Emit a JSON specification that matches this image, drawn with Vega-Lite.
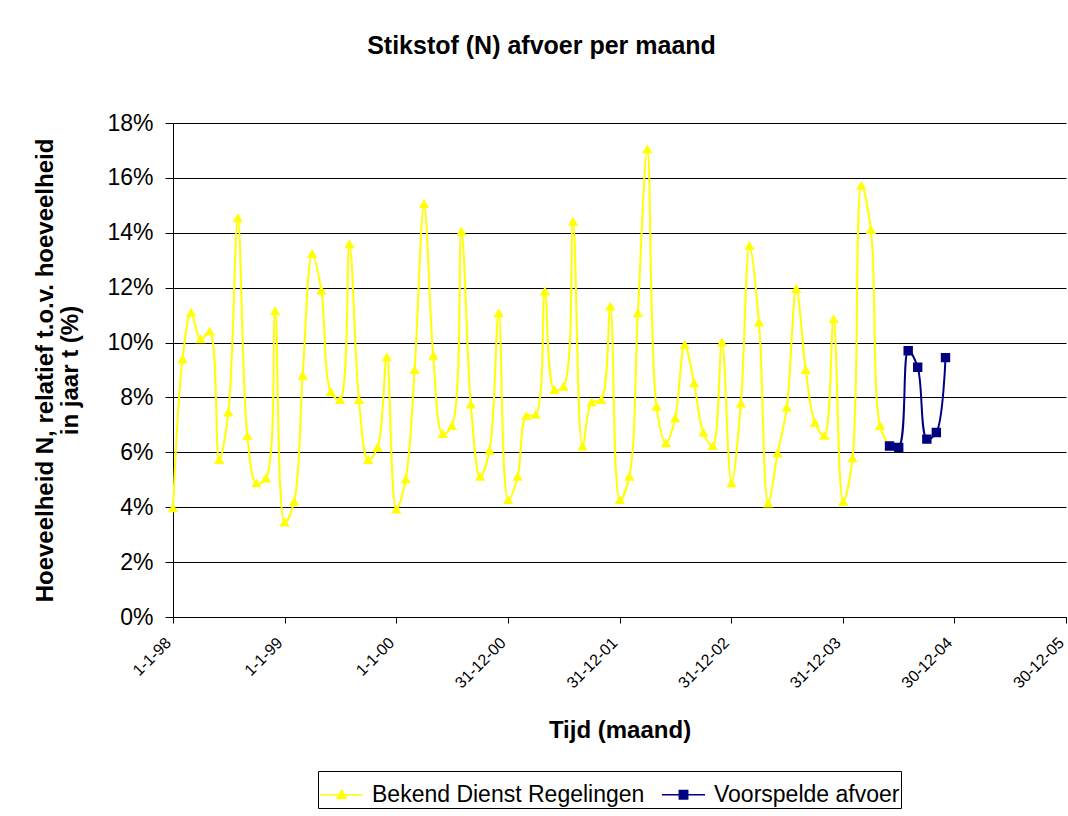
{
  "$schema": "https://vega.github.io/schema/vega-lite/v6.json",
  "width": 893,
  "height": 494,
  "autosize": {"type": "none"},
  "padding": {"left": 173, "top": 123, "right": 2, "bottom": 199},
  "background": "white",
  "config": {
    "font": "Liberation Sans",
    "view": {"stroke": null},
    "axis": {"domainColor": "#000", "tickColor": "#000", "labelColor": "#000", "titleColor": "#000", "labelFont": "Liberation Sans", "titleFont": "Liberation Sans"},
    "legend": {
      "orient": "none",
      "legendX": 145,
      "legendY": 648,
      "direction": "horizontal",
      "strokeColor": "#000",
      "fillColor": "#fff",
      "padding": 1,
      "labelFontSize": 23,
      "labelFont": "Liberation Sans",
      "labelColor": "#000",
      "labelOffset": 8,
      "labelLimit": 0,
      "columnPadding": 14,
      "symbolSize": 1849,
      "symbolStrokeWidth": 1.3
    }
  },
  "title": {
    "text": "Stikstof (N) afvoer per maand",
    "fontSize": 25,
    "fontWeight": "bold",
    "font": "Liberation Sans",
    "color": "#000",
    "anchor": "middle",
    "dx": -78,
    "baseline": "alphabetic",
    "offset": 33
  },
  "data": {
    "values": [
      {"date": "1998-01-01", "value": 0.0396, "series": "Bekend Dienst Regelingen"},
      {"date": "1998-02-01", "value": 0.0939, "series": "Bekend Dienst Regelingen"},
      {"date": "1998-03-01", "value": 0.1109, "series": "Bekend Dienst Regelingen"},
      {"date": "1998-04-01", "value": 0.1012, "series": "Bekend Dienst Regelingen"},
      {"date": "1998-05-01", "value": 0.1040, "series": "Bekend Dienst Regelingen"},
      {"date": "1998-06-01", "value": 0.0572, "series": "Bekend Dienst Regelingen"},
      {"date": "1998-07-01", "value": 0.0745, "series": "Bekend Dienst Regelingen"},
      {"date": "1998-08-01", "value": 0.1453, "series": "Bekend Dienst Regelingen"},
      {"date": "1998-09-01", "value": 0.0660, "series": "Bekend Dienst Regelingen"},
      {"date": "1998-10-01", "value": 0.0487, "series": "Bekend Dienst Regelingen"},
      {"date": "1998-11-01", "value": 0.0505, "series": "Bekend Dienst Regelingen"},
      {"date": "1998-12-01", "value": 0.1115, "series": "Bekend Dienst Regelingen"},
      {"date": "1999-01-01", "value": 0.0344, "series": "Bekend Dienst Regelingen"},
      {"date": "1999-02-01", "value": 0.0420, "series": "Bekend Dienst Regelingen"},
      {"date": "1999-03-01", "value": 0.0879, "series": "Bekend Dienst Regelingen"},
      {"date": "1999-04-01", "value": 0.1323, "series": "Bekend Dienst Regelingen"},
      {"date": "1999-05-01", "value": 0.1190, "series": "Bekend Dienst Regelingen"},
      {"date": "1999-06-01", "value": 0.0820, "series": "Bekend Dienst Regelingen"},
      {"date": "1999-07-01", "value": 0.0791, "series": "Bekend Dienst Regelingen"},
      {"date": "1999-08-01", "value": 0.1358, "series": "Bekend Dienst Regelingen"},
      {"date": "1999-09-01", "value": 0.0791, "series": "Bekend Dienst Regelingen"},
      {"date": "1999-10-01", "value": 0.0572, "series": "Bekend Dienst Regelingen"},
      {"date": "1999-11-01", "value": 0.0617, "series": "Bekend Dienst Regelingen"},
      {"date": "1999-12-01", "value": 0.0946, "series": "Bekend Dienst Regelingen"},
      {"date": "2000-01-01", "value": 0.0392, "series": "Bekend Dienst Regelingen"},
      {"date": "2000-02-01", "value": 0.0502, "series": "Bekend Dienst Regelingen"},
      {"date": "2000-03-01", "value": 0.0900, "series": "Bekend Dienst Regelingen"},
      {"date": "2000-04-01", "value": 0.1504, "series": "Bekend Dienst Regelingen"},
      {"date": "2000-05-01", "value": 0.0952, "series": "Bekend Dienst Regelingen"},
      {"date": "2000-06-01", "value": 0.0667, "series": "Bekend Dienst Regelingen"},
      {"date": "2000-07-01", "value": 0.0696, "series": "Bekend Dienst Regelingen"},
      {"date": "2000-08-01", "value": 0.1405, "series": "Bekend Dienst Regelingen"},
      {"date": "2000-09-01", "value": 0.0774, "series": "Bekend Dienst Regelingen"},
      {"date": "2000-10-01", "value": 0.0511, "series": "Bekend Dienst Regelingen"},
      {"date": "2000-11-01", "value": 0.0606, "series": "Bekend Dienst Regelingen"},
      {"date": "2000-12-01", "value": 0.1107, "series": "Bekend Dienst Regelingen"},
      {"date": "2001-01-01", "value": 0.0426, "series": "Bekend Dienst Regelingen"},
      {"date": "2001-02-01", "value": 0.0511, "series": "Bekend Dienst Regelingen"},
      {"date": "2001-03-01", "value": 0.0732, "series": "Bekend Dienst Regelingen"},
      {"date": "2001-04-01", "value": 0.0737, "series": "Bekend Dienst Regelingen"},
      {"date": "2001-05-01", "value": 0.1186, "series": "Bekend Dienst Regelingen"},
      {"date": "2001-06-01", "value": 0.0827, "series": "Bekend Dienst Regelingen"},
      {"date": "2001-07-01", "value": 0.0839, "series": "Bekend Dienst Regelingen"},
      {"date": "2001-08-01", "value": 0.1440, "series": "Bekend Dienst Regelingen"},
      {"date": "2001-09-01", "value": 0.0621, "series": "Bekend Dienst Regelingen"},
      {"date": "2001-10-01", "value": 0.0782, "series": "Bekend Dienst Regelingen"},
      {"date": "2001-11-01", "value": 0.0791, "series": "Bekend Dienst Regelingen"},
      {"date": "2001-12-01", "value": 0.1131, "series": "Bekend Dienst Regelingen"},
      {"date": "2002-01-01", "value": 0.0426, "series": "Bekend Dienst Regelingen"},
      {"date": "2002-02-01", "value": 0.0511, "series": "Bekend Dienst Regelingen"},
      {"date": "2002-03-01", "value": 0.1107, "series": "Bekend Dienst Regelingen"},
      {"date": "2002-04-01", "value": 0.1704, "series": "Bekend Dienst Regelingen"},
      {"date": "2002-05-01", "value": 0.0766, "series": "Bekend Dienst Regelingen"},
      {"date": "2002-06-01", "value": 0.0633, "series": "Bekend Dienst Regelingen"},
      {"date": "2002-07-01", "value": 0.0724, "series": "Bekend Dienst Regelingen"},
      {"date": "2002-08-01", "value": 0.0991, "series": "Bekend Dienst Regelingen"},
      {"date": "2002-09-01", "value": 0.0852, "series": "Bekend Dienst Regelingen"},
      {"date": "2002-10-01", "value": 0.0672, "series": "Bekend Dienst Regelingen"},
      {"date": "2002-11-01", "value": 0.0623, "series": "Bekend Dienst Regelingen"},
      {"date": "2002-12-01", "value": 0.1000, "series": "Bekend Dienst Regelingen"},
      {"date": "2003-01-01", "value": 0.0487, "series": "Bekend Dienst Regelingen"},
      {"date": "2003-02-01", "value": 0.0778, "series": "Bekend Dienst Regelingen"},
      {"date": "2003-03-01", "value": 0.1352, "series": "Bekend Dienst Regelingen"},
      {"date": "2003-04-01", "value": 0.1073, "series": "Bekend Dienst Regelingen"},
      {"date": "2003-05-01", "value": 0.0414, "series": "Bekend Dienst Regelingen"},
      {"date": "2003-06-01", "value": 0.0597, "series": "Bekend Dienst Regelingen"},
      {"date": "2003-07-01", "value": 0.0763, "series": "Bekend Dienst Regelingen"},
      {"date": "2003-08-01", "value": 0.1195, "series": "Bekend Dienst Regelingen"},
      {"date": "2003-09-01", "value": 0.0900, "series": "Bekend Dienst Regelingen"},
      {"date": "2003-10-01", "value": 0.0708, "series": "Bekend Dienst Regelingen"},
      {"date": "2003-11-01", "value": 0.0660, "series": "Bekend Dienst Regelingen"},
      {"date": "2003-12-01", "value": 0.1085, "series": "Bekend Dienst Regelingen"},
      {"date": "2004-01-01", "value": 0.0420, "series": "Bekend Dienst Regelingen"},
      {"date": "2004-02-01", "value": 0.0578, "series": "Bekend Dienst Regelingen"},
      {"date": "2004-03-01", "value": 0.1571, "series": "Bekend Dienst Regelingen"},
      {"date": "2004-04-01", "value": 0.1410, "series": "Bekend Dienst Regelingen"},
      {"date": "2004-05-01", "value": 0.0696, "series": "Bekend Dienst Regelingen"},
      {"date": "2004-06-01", "value": 0.0623, "series": "Bekend Dienst Regelingen"},
      {"date": "2004-06-01", "value": 0.0623, "series": "Voorspelde afvoer"},
      {"date": "2004-07-01", "value": 0.0618, "series": "Voorspelde afvoer"},
      {"date": "2004-08-01", "value": 0.0970, "series": "Voorspelde afvoer"},
      {"date": "2004-09-01", "value": 0.0910, "series": "Voorspelde afvoer"},
      {"date": "2004-10-01", "value": 0.0648, "series": "Voorspelde afvoer"},
      {"date": "2004-11-01", "value": 0.0672, "series": "Voorspelde afvoer"},
      {"date": "2004-12-01", "value": 0.0945, "series": "Voorspelde afvoer"}
    ]
  },
  "encoding": {
    "x": {
      "field": "date",
      "type": "temporal",
      "scale": {"type": "utc", "domain": [{"year": 1998, "month": 1, "date": 1, "utc": true}, {"year": 2005, "month": 12, "date": 30, "utc": true}]},
      "axis": {
        "title": "Tijd (maand)",
        "titleFontSize": 24,
        "titleFontWeight": "bold",
        "titlePadding": 28,
        "values": [
          {"year": 1998, "month": 1, "date": 1, "utc": true},
          {"year": 1999, "month": 1, "date": 1, "utc": true},
          {"year": 2000, "month": 1, "date": 1, "utc": true},
          {"year": 2000, "month": 12, "date": 31, "utc": true},
          {"year": 2001, "month": 12, "date": 31, "utc": true},
          {"year": 2002, "month": 12, "date": 31, "utc": true},
          {"year": 2003, "month": 12, "date": 31, "utc": true},
          {"year": 2004, "month": 12, "date": 30, "utc": true},
          {"year": 2005, "month": 12, "date": 30, "utc": true}
        ],
        "labelExpr": "utcFormat(datum.value, '%-d-%-m-%y')",
        "labelAngle": -45,
        "labelAlign": "right",
        "labelBaseline": "middle",
        "labelFontSize": 16,
        "labelPadding": 17,
        "labelOffset": -5,
        "tickSize": 6,
        "grid": false,
        "labelOverlap": false,
        "labelFlush": false
      }
    },
    "y": {
      "field": "value",
      "type": "quantitative",
      "scale": {"domain": [0, 0.18], "nice": false, "zero": true},
      "axis": {
        "title": ["Hoeveelheid N, relatief t.o.v. hoeveelheid", "in jaar t (%)"],
        "titleFontSize": 24,
        "titleFontWeight": "bold",
        "titleLineHeight": 25,
        "titlePadding": 24,
        "values": [0, 0.02, 0.04, 0.06, 0.08, 0.1, 0.12, 0.14, 0.16, 0.18],
        "format": ".0%",
        "labelFontSize": 23,
        "labelPadding": 12,
        "tickSize": 8,
        "grid": true,
        "gridColor": "#000",
        "gridOpacity": 1,
        "gridWidth": 1
      }
    }
  },
  "layer": [
    {
      "mark": {"type": "line", "interpolate": "catmull-rom", "strokeWidth": 2},
      "encoding": {
        "stroke": {
          "field": "series",
          "type": "nominal",
          "title": null,
          "scale": {"domain": ["Bekend Dienst Regelingen", "Voorspelde afvoer"], "range": ["#ffff00", "#000080"]}
        }
      }
    },
    {
      "mark": {"type": "point", "filled": true, "size": 2209, "opacity": 1},
      "encoding": {
        "color": {
          "field": "series",
          "type": "nominal",
          "title": null,
          "scale": {"domain": ["Bekend Dienst Regelingen", "Voorspelde afvoer"], "range": ["#ffff00", "#000080"]}
        },
        "shape": {
          "field": "series",
          "type": "nominal",
          "title": null,
          "scale": {"domain": ["Bekend Dienst Regelingen", "Voorspelde afvoer"], "range": ["M-1,0L1,0M0,-0.21L0.22,0.17L-0.22,0.17Z", "M-1,0L1,0M-0.2,-0.2L0.2,-0.2L0.2,0.2L-0.2,0.2Z"]}
        }
      }
    }
  ]
}
